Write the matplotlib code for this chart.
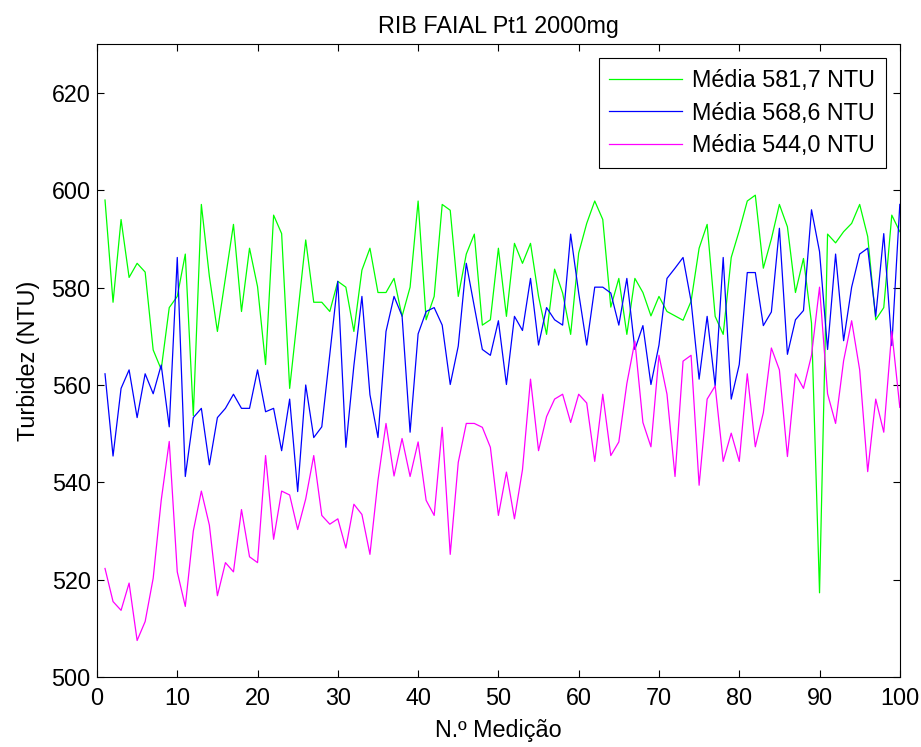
import numpy as np
import matplotlib
matplotlib.use('Agg')
import matplotlib.pyplot as plt

plt.rcParams['font.family'] = ['Liberation Sans', 'DejaVu Sans']

medicao = np.arange(1, 101)

# media 581,7
verde = [598.0, 577.0, 594.0, 582.1, 585.0, 583.2, 567.2, 563.2, 575.9, 578.2,
         586.9, 553.7, 597.1, 582.3, 571.0, 582.0, 593.0, 575.1, 588.1, 580.2,
         564.2, 594.9, 591.1, 559.3, 574.5, 589.8, 577.0, 577.0, 575.1, 581.3,
         580.1, 571.0, 583.6, 588.1, 579.0, 579.0, 581.9, 574.1, 580.1, 597.8,
         573.4, 578.2, 597.1, 595.9, 578.2, 586.9, 591.0, 572.3, 573.4, 588.1,
         574.1, 589.1, 585.0, 589.1, 578.2, 570.4, 583.8, 578.9, 570.4, 587.1,
         593.2, 597.8, 594.0, 576.0, 581.9, 570.4, 581.9, 579.0, 574.2, 578.2,
         575.1, 574.2, 573.3, 577.2, 588.1, 593.0, 574.1, 570.4, 586.2, 591.7,
         597.8, 599.0, 584.0, 590.0, 597.1, 592.5, 579.0, 586.0, 572.7, 517.3,
         591.0, 589.2, 591.5, 593.2, 597.1, 590.5, 573.4, 575.9, 594.9, 591.5]

# media 568,6
azul = [562.3, 545.4, 559.3, 563.1, 553.3, 562.3, 558.2, 564.1, 551.4, 586.2,
        541.2, 553.3, 555.2, 543.6, 553.3, 555.2, 558.1, 555.2, 555.2, 563.1,
        554.5, 555.2, 546.5, 557.1, 538.1, 560.0, 549.2, 551.4, 566.3, 581.3,
        547.2, 564.0, 578.2, 558.0, 549.2, 571.0, 578.2, 574.2, 550.3, 570.5,
        575.1, 575.9, 572.3, 560.1, 568.0, 585.0, 576.1, 567.3, 566.1, 573.2,
        560.1, 574.1, 571.2, 581.9, 568.2, 575.9, 573.4, 572.3, 591.0, 578.9,
        568.2, 580.1, 580.1, 578.9, 572.3, 581.9, 567.3, 572.2, 560.1, 568.2,
        581.9, 584.0, 586.2, 577.2, 561.2, 574.1, 559.8, 586.2, 557.1, 564.2,
        583.1, 583.1, 572.2, 575.0, 592.2, 566.3, 573.4, 575.3, 596.0, 587.4,
        567.3, 586.9, 569.1, 580.1, 586.9, 588.1, 574.1, 591.1, 568.1, 597.1]

# media 544,0
magenta = [522.3, 515.5, 513.7, 519.3, 507.5, 511.4, 520.3, 536.3, 548.4, 521.6,
           514.5, 530.0, 538.2, 531.2, 516.7, 523.5, 521.6, 534.4, 524.7, 523.5,
           545.5, 528.3, 538.2, 537.4, 530.3, 536.6, 545.5, 533.2, 531.4, 532.5,
           526.5, 535.5, 533.4, 525.2, 540.4, 552.1, 541.3, 549.0, 541.2, 548.3,
           536.3, 533.2, 551.3, 525.2, 544.1, 552.1, 552.1, 551.3, 547.2, 533.2,
           542.1, 532.5, 542.6, 561.2, 546.5, 553.5, 557.1, 558.1, 552.3, 558.1,
           556.3, 544.3, 558.1, 545.5, 548.3, 560.3, 569.0, 552.3, 547.3, 566.1,
           558.1, 541.2, 564.9, 566.1, 539.4, 557.1, 559.8, 544.3, 550.1, 544.3,
           562.3, 547.3, 554.3, 567.6, 563.1, 545.3, 562.3, 559.3, 566.1, 580.1,
           558.2, 552.1, 565.0, 573.2, 563.1, 542.2, 557.1, 550.3, 571.0, 555.4]

legendas = ['Média 581,7 NTU', 'Média 568,6 NTU', 'Média 544,0 NTU']

fs = 16.8

fig = plt.figure(figsize=(9.21, 7.47), dpi=100)
ax = fig.add_axes([0.1053, 0.0937, 0.8717, 0.847])

ax.plot(medicao, verde, color=(0, 1, 0), lw=0.9, label=legendas[0])
ax.plot(medicao, azul, color=(0, 0, 1), lw=0.9, label=legendas[1])
ax.plot(medicao, magenta, color=(1, 0, 1), lw=0.9, label=legendas[2])

ax.set_xlim(0, 100)
ax.set_ylim(500, 630)
ax.set_xticks(np.arange(0, 101, 10))
ax.set_yticks(np.arange(500, 621, 20))
ax.tick_params(direction='in', top=True, right=True, length=5, labelsize=fs)
ax.tick_params(axis='x', pad=7.5)
ax.tick_params(axis='y', pad=4.5)

ax.set_title('RIB FAIAL Pt1 2000mg', fontsize=fs, pad=8)
ax.set_xlabel('N.º Medição', fontsize=fs, labelpad=6)
ax.set_ylabel('Turbidez (NTU)', fontsize=fs, labelpad=8)

leg = ax.legend(loc='upper right', fontsize=fs, fancybox=False, edgecolor='black',
                handlelength=3.1, handletextpad=0.45, borderpad=0.45,
                labelspacing=0.42, borderaxespad=0.6, framealpha=1)
leg.get_frame().set_linewidth(0.8)

fig.savefig('out.png', dpi=100)
